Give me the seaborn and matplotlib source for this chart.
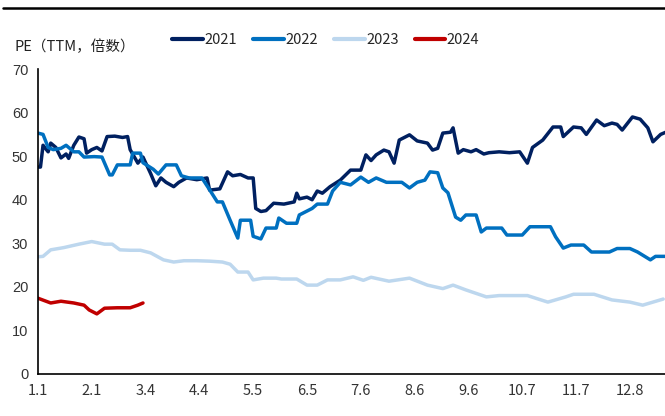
import numpy as np
import pandas as pd
import matplotlib
matplotlib.use("Agg")
import matplotlib.pyplot as plt
from matplotlib.lines import Line2D
import seaborn as sns

# trading-day index within the year and PE(TTM)
days_2021 = [0, 1, 2, 4, 5, 7, 9, 11, 12, 14, 16, 18, 19, 21, 23, 25, 27, 30, 33, 35, 36, 39, 41,
             44, 46, 48, 50, 53, 55, 58, 62, 66, 67, 71, 74, 76, 79, 82, 84, 85, 87, 89, 92, 96,
             100, 101, 102, 105, 107, 109, 111, 114, 118, 122, 126, 128, 130, 132, 135, 137, 139,
             141, 145, 148, 152, 154, 156, 158, 161, 162, 164, 166, 169, 171, 174, 176, 180, 184,
             188, 191, 193, 197, 201, 204, 205, 209, 212, 214, 218, 221, 224, 226, 228, 232, 235,
             238, 240, 243, 245]
pe_2021 = [47.5, 47.5, 52.5, 51.0, 53.0, 52.0, 49.6, 50.5, 49.5, 52.5, 54.4, 54.0, 50.7, 51.5,
           52.0, 51.2, 54.5, 54.6, 54.3, 54.5, 51.5, 48.4, 49.8, 46.0, 43.2, 45.0, 44.0, 43.0,
           44.0, 45.0, 44.6, 45.0, 42.2, 42.5, 46.4, 45.5, 45.8, 45.0, 45.0, 38.0, 37.3, 37.5,
           39.2, 39.0, 39.5, 41.5, 40.2, 40.6, 40.0, 42.0, 41.5, 43.0, 44.5, 46.8, 46.8, 50.3,
           49.0, 50.3, 51.4, 51.0, 48.4, 53.7, 54.9, 53.5, 53.0, 51.4, 51.8, 55.3, 55.5, 56.5,
           50.7, 51.5, 51.0, 51.5, 50.5, 50.8, 51.0, 50.8, 51.0, 48.4, 52.0, 53.7, 56.7, 56.7,
           54.5, 56.7, 56.5, 55.0, 58.3, 57.0, 57.6, 57.3, 56.0, 59.0, 58.5, 56.5, 53.3, 55.0, 55.5]

days_2022 = [0, 2, 4, 6, 9, 11, 14, 16, 18, 22, 25, 28, 29, 31, 36, 37, 40, 41, 45, 47, 50, 54,
             56, 59, 64, 67, 70, 72, 75, 78, 79, 83, 84, 87, 89, 93, 94, 97, 101, 102, 107, 109,
             113, 115, 118, 122, 126, 129, 132, 136, 142, 145, 148, 151, 153, 156, 158, 160, 163,
             165, 167, 171, 173, 175, 181, 183, 189, 192, 200, 202, 205, 208, 213, 216, 223, 226,
             231, 234, 239, 241, 245]
pe_2022 = [55.3, 55.0, 52.0, 51.5, 51.8, 52.5, 51.0, 51.0, 49.8, 49.9, 49.8, 45.7, 45.7, 48.0,
           48.0, 50.7, 50.7, 48.5, 47.0, 45.9, 48.0, 48.0, 45.5, 45.0, 45.0, 42.3, 39.5, 39.5,
           35.3, 31.2, 35.3, 35.3, 31.6, 31.0, 33.5, 33.5, 35.8, 34.6, 34.6, 36.5, 38.0, 39.0,
           39.0, 42.0, 44.0, 43.4, 45.2, 44.0, 45.0, 44.0, 44.0, 42.7, 44.0, 44.5, 46.4, 46.2,
           42.7, 41.6, 36.0, 35.3, 36.5, 36.5, 32.6, 33.5, 33.5, 31.9, 31.9, 33.8, 33.8, 31.5,
           28.9, 29.6, 29.6, 28.0, 28.0, 28.8, 28.8, 28.0, 26.2, 27.0, 27.0]

days_2023 = [0, 2, 5, 10, 16, 21, 26, 29, 32, 36, 40, 44, 49, 53, 57, 62, 67, 72, 75, 78, 82,
             84, 88, 93, 95, 101, 105, 109, 113, 118, 123, 127, 130, 137, 145, 152, 158, 162,
             167, 175, 180, 191, 199, 206, 209, 217, 224, 231, 236, 240, 244]
pe_2023 = [26.9, 27.0, 28.5, 29.0, 29.8, 30.4, 29.8, 29.8, 28.5, 28.4, 28.4, 27.8, 26.2, 25.7,
           26.0, 26.0, 25.9, 25.7, 25.2, 23.4, 23.4, 21.6, 22.0, 22.0, 21.8, 21.8, 20.4, 20.4,
           21.6, 21.6, 22.3, 21.5, 22.2, 21.3, 22.0, 20.4, 19.6, 20.4, 19.3, 17.7, 18.0, 18.0,
           16.5, 17.7, 18.3, 18.3, 17.0, 16.5, 15.8, 16.5, 17.2]

days_2024 = [0, 5, 9, 14, 18, 20, 23, 26, 31, 36, 39, 41]
pe_2024 = [17.4, 16.3, 16.7, 16.3, 15.8, 14.7, 13.8, 15.1, 15.2, 15.2, 15.8, 16.3]

tick_days = [0, 21, 42, 63, 84, 105, 126, 147, 168, 189, 210, 231]
tick_labels = ["1.1", "2.1", "3.4", "4.4", "5.5", "6.5", "7.6", "8.6", "9.6", "10.7", "11.7", "12.8"]

years = ["2021", "2022", "2023", "2024"]
colors = {"2021": "#002060", "2022": "#0070C0", "2023": "#BDD7EE", "2024": "#C00000"}

frames = []
for yr, d, v in [("2021", days_2021, pe_2021), ("2022", days_2022, pe_2022),
                 ("2023", days_2023, pe_2023), ("2024", days_2024, pe_2024)]:
    frames.append(pd.DataFrame({"day": d, "pe": v, "year": yr}))
df = pd.concat(frames, ignore_index=True)

sns.set_style("white")
plt.rcParams["font.family"] = ["Noto Sans CJK SC", "DejaVu Sans"]

fig = plt.figure(figsize=(6.65, 4.16), dpi=100)
ax = fig.add_axes([0.057, 0.101, 0.943, 0.733])

sns.lineplot(data=df, x="day", y="pe", hue="year", hue_order=years, palette=colors,
             linewidth=2.5, estimator=None, legend=False, ax=ax)

ax.set_xlim(0, 244.7)
ax.set_ylim(0, 70)
ax.set_yticks(range(0, 71, 10))
ax.set_xticks(tick_days)
ax.set_xticklabels(tick_labels, fontsize=10.5, color="#333333")
for lab in ax.get_yticklabels():
    lab.set_fontfamily("Liberation Sans")
    lab.set_fontsize(10.5)
    lab.set_color("#333333")
ax.tick_params(axis="both", direction="out", length=4, width=1, color="black", pad=3)
ax.set_xlabel("")
ax.set_ylabel("")
for side in ["top", "right"]:
    ax.spines[side].set_visible(False)
for side in ["left", "bottom"]:
    ax.spines[side].set_color("black")
    ax.spines[side].set_linewidth(1.2)

fig.text(0.022, 0.888, "PE（TTM，倍数）", fontsize=10.5, color="#222222", va="center")

handles = [Line2D([0], [0], color=colors[y], lw=3) for y in years]
fig.legend(handles, years, loc="center", bbox_to_anchor=(0.49, 0.904), ncol=4, frameon=False,
           fontsize=10.5, handlelength=2.1, handletextpad=0.1, columnspacing=1.1)

# separator rule at top of the clipped page
fig.add_artist(Line2D([0.005, 1.0], [0.981, 0.981], color="black", lw=1.8))

fig.savefig("out.png", dpi=100)
